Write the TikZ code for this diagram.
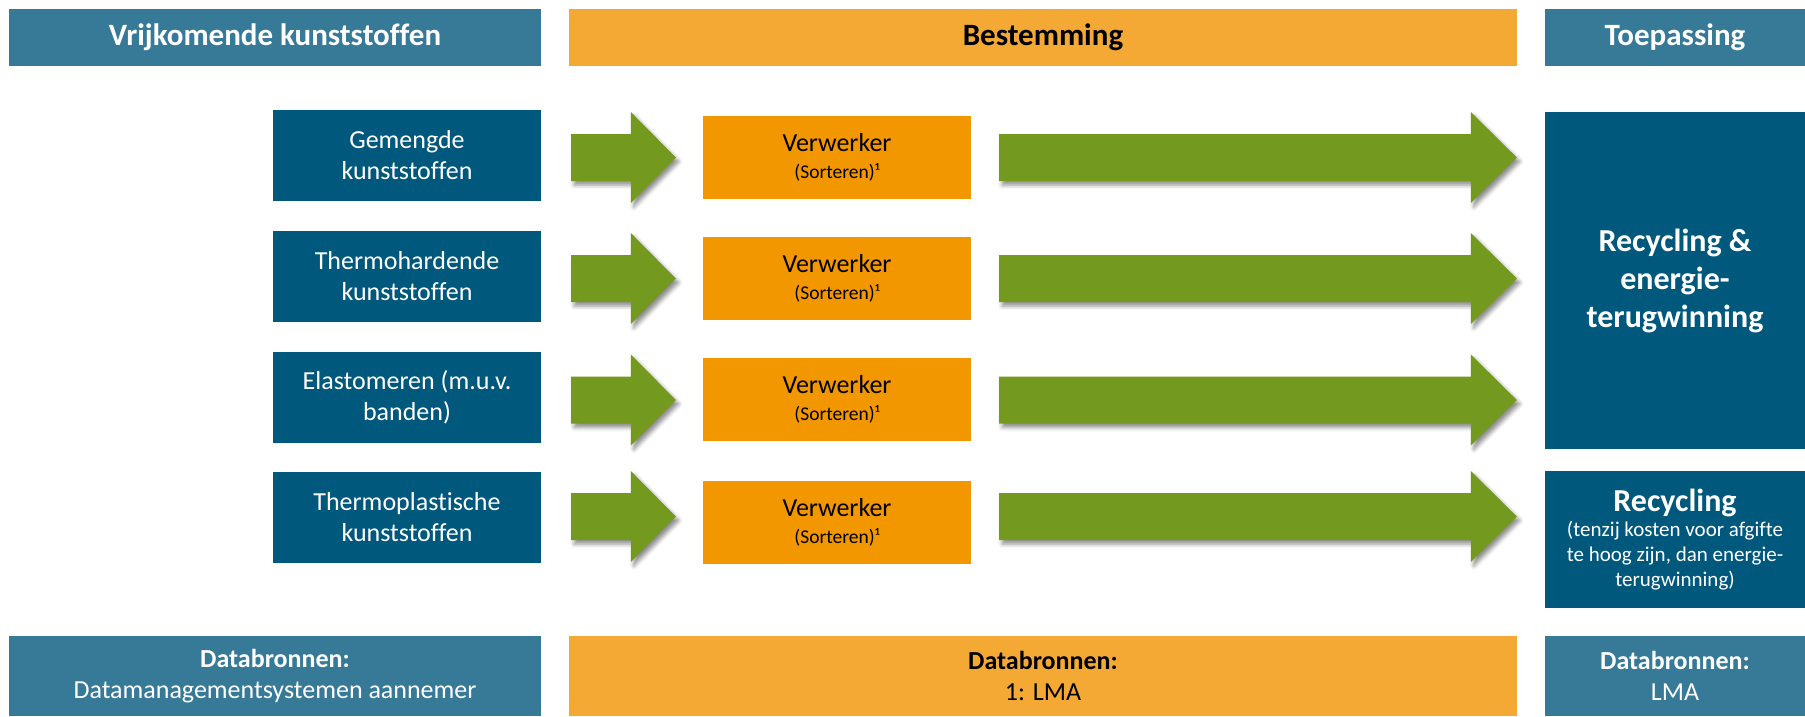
\documentclass[tikz,border=0pt]{standalone}
\usepackage{fontspec}
\setmainfont{Carlito}[Ligatures=NoCommon]
\usetikzlibrary{calc,shadows.blur}

\definecolor{bandteal}{HTML}{367A98}
\definecolor{boxblue}{HTML}{00587D}
\definecolor{bandorange}{HTML}{F4A934}
\definecolor{boxorange}{HTML}{F39700}
\definecolor{arrowgreen}{HTML}{739A1E}

% block arrow from a start point to a tip, with given head length
\newcommand\greenarrow[3]{%
  \path[flowarrow] let \p1=(#1), \p2=(#2) in
    (\x1,\y1+23.5pt) -- (\x2-#3,\y1+23.5pt) -- (\x2-#3,\y1+45.5pt) --
    (\x2,\y1) -- (\x2-#3,\y1-45.5pt) -- (\x2-#3,\y1-23.5pt) --
    (\x1,\y1-23.5pt) -- cycle;}

\begin{document}
\begin{tikzpicture}[x=1pt,y=-1pt,
  band/.style={fill=bandteal,text=white,inner sep=0pt,minimum height=57pt,
    font=\fontsize{31}{37}\selectfont\bfseries},
  footband/.style={fill=bandteal,text=white,inner sep=0pt,minimum height=80pt,
    align=center,font=\fontsize{26}{31}\selectfont},
  srcbox/.style={fill=boxblue,text=white,inner sep=0pt,minimum width=268pt,
    minimum height=91pt,align=center,font=\fontsize{26}{31}\selectfont},
  procbox/.style={fill=boxorange,text=black,inner sep=0pt,minimum width=268pt,
    minimum height=83pt,align=center,font=\fontsize{19.5}{27}\selectfont},
  usebox/.style={fill=boxblue,text=white,inner sep=0pt,minimum width=260pt,
    align=center},
  flowarrow/.style={fill=arrowgreen,
    blur shadow={shadow xshift=3pt,shadow yshift=-4pt,
      shadow blur radius=4pt,shadow opacity=45}},
]
\useasboundingbox (0,0) rectangle (1805,716);

% column headers
\node[band,minimum width=532pt] (hL) at (275,37.5) {Vrijkomende kunststoffen};
\node[band,fill=bandorange,text=black,minimum width=948pt] (hM) at (1043,37.5) {Bestemming};
\node[band,minimum width=260pt] (hR) at (1675,37.5) {Toepassing};

% released plastics
\node[srcbox] (g1) at (407,155.5) {Gemengde\\kunststoffen};
\node[srcbox] (g2) at (407,276.5) {Thermohardende\\kunststoffen};
\node[srcbox] (g3) at (407,397.5) {Elastomeren (m.u.v.\\banden)};
\node[srcbox] (g4) at (407,517.5) {Thermoplastische\\kunststoffen};

% processors
\foreach \i/\y in {1/157.5,2/278.5,3/399.5,4/522}{
  \node[procbox] (v\i) at (837,\y)
    {{\fontsize{26}{26}\selectfont Verwerker}\\(Sorteren)¹};
}

% applications
\node[usebox,minimum height=337pt,font=\fontsize{32}{38}\selectfont\bfseries]
  (r1) at (1675,280.5) {Recycling \&\\energie-\\terugwinning};
\node[usebox,minimum height=137pt,font=\fontsize{21}{25}\selectfont]
  (r2) at (1675,539.5)
  {{\fontsize{32}{30}\selectfont\bfseries Recycling}\\(tenzij kosten voor afgifte\\te hoog zijn, dan energie-\\terugwinning)};

% data sources
\node[footband,minimum width=532pt] (bL) at (275,676)
  {{\bfseries Databronnen:}\\Datamanagementsystemen aannemer};
\node[footband,fill=bandorange,text=black,minimum width=948pt] (bM) at (1043,676)
  {{\bfseries Databronnen:}\\1: LMA};
\node[footband,minimum width=260pt] (bR) at (1675,676)
  {{\bfseries Databronnen:}\\LMA};

% flow arrows (the last row sits slightly higher than its processor box)
\foreach \i/\dy in {1/0,2/0,3/0.5,4/-5.5}{
  \coordinate (as\i) at ($(v\i.west -| g\i.east)+(30,\dy)$);
  \coordinate (at\i) at ($(v\i.west)+(-27,\dy)$);
  \coordinate (bs\i) at ($(v\i.east)+(28,\dy)$);
  \coordinate (bt\i) at ($(v\i.east -| r1.west)+(-28,\dy)$);
  \greenarrow{as\i}{at\i}{45pt}
  \greenarrow{bs\i}{bt\i}{46pt}
}
\end{tikzpicture}
\end{document}
